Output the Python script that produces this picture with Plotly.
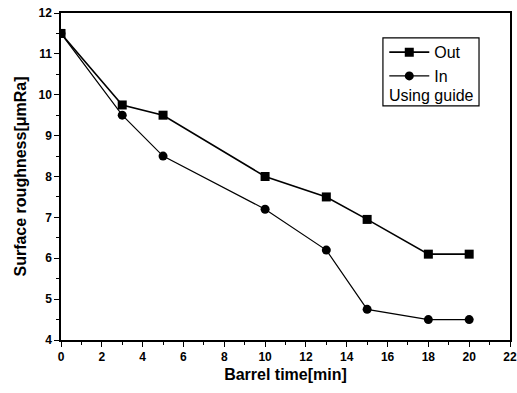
import plotly.graph_objects as go

time_min = [0, 3, 5, 10, 13, 15, 18, 20]
out_vals = [11.5, 9.75, 9.5, 8.0, 7.5, 6.95, 6.1, 6.1]
in_vals = [11.5, 9.5, 8.5, 7.2, 6.2, 4.75, 4.5, 4.5]

x_ticks = list(range(0, 23, 2))
y_ticks = list(range(4, 13))

fig = go.Figure()
fig.add_trace(go.Scatter(x=time_min, y=out_vals, name="Out", mode="lines+markers",
                         line=dict(color="black", width=1.6),
                         marker=dict(symbol="square", size=9, color="black")))
fig.add_trace(go.Scatter(x=time_min, y=in_vals, name="In", mode="lines+markers",
                         line=dict(color="black", width=1.2),
                         marker=dict(symbol="circle", size=9, color="black")))

font = "Liberation Sans, Arial, sans-serif"
axis_common = dict(showline=True, linecolor="black", linewidth=1.5, mirror=True,
                   ticks="outside", ticklen=5, tickwidth=1.2, tickcolor="black",
                   showgrid=False, zeroline=False, automargin=False,
                   tickfont=dict(family=font, size=12, color="black", weight="bold"))
fig.update_xaxes(range=[0, 22], tickvals=x_ticks,
                 minor=dict(dtick=1, ticks="outside", ticklen=3, tickcolor="black"),
                 title=dict(text="<b>Barrel time[min]</b>", font=dict(family=font, size=16, color="black"), standoff=6),
                 **axis_common)
fig.update_yaxes(range=[4, 12], tickvals=y_ticks,
                 minor=dict(dtick=0.5, ticks="outside", ticklen=3, tickcolor="black"),
                 title=dict(text="<b>Surface roughness[\u03bcmRa]</b>", font=dict(family=font, size=16, color="black"), standoff=8),
                 **axis_common)

fig.add_shape(type="rect", xref="paper", yref="paper", x0=0.717, x1=0.931, y0=0.716, y1=0.924,
              line=dict(color="black", width=1.2), fillcolor="rgba(0,0,0,0)")
fig.add_annotation(text="Using guide", xref="paper", yref="paper", x=0.727, y=0.749,
                   xanchor="left", yanchor="middle", showarrow=False,
                   font=dict(family=font, size=16, color="black"))

fig.update_layout(
    width=517, height=393,
    margin=dict(l=61, r=7, t=13, b=53),
    paper_bgcolor="white", plot_bgcolor="white",
    font=dict(family=font, size=16, color="black"),
    legend=dict(x=0.72, y=0.932, xanchor="left", yanchor="top",
                bgcolor="rgba(0,0,0,0)", borderwidth=0,
                font=dict(family=font, size=16, color="black"),
                tracegroupgap=0, itemwidth=40),
    showlegend=True,
)

fig.write_html("out.html")
